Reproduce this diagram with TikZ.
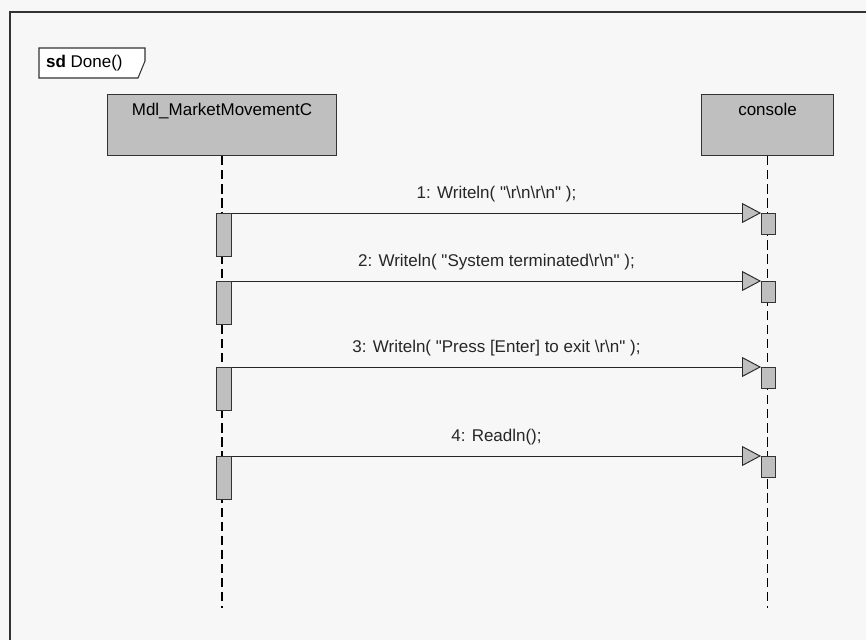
\documentclass[tikz,border=0pt]{standalone}
\usepackage{fontspec}
\setmainfont{Liberation Sans}[Ligatures=TeXOff]
\usetikzlibrary{arrows.meta,positioning}
\newcommand\bsl{\textbackslash}

\begin{document}
\begin{tikzpicture}[x=0.03cm,y=-0.03cm,font=\fontsize{14.5}{17}\selectfont,
  obj/.style={draw=black!80,line width=0.9pt,fill=black!25,anchor=north west,minimum height=1.83cm,inner sep=0pt},
  act/.style={draw=black!80,line width=0.8pt,fill=black!25,anchor=north west,inner sep=0pt,minimum width=0.45cm,minimum height=1.29cm},
  recv/.style={act,minimum width=0.42cm,minimum height=0.63cm},
  life/.style={black,line width=1.1pt,dash pattern=on 8pt off 4pt},
  msg/.style={black!85,line width=0.8pt,-{Triangle[length=5.7mm,width=6mm,fill=black!25,line width=0.8pt]}}]
\useasboundingbox (0,0) rectangle (866,640);
\fill[black!3] (0,0) rectangle (866,640);
\draw[black!80,line width=1pt] (10,640) |- (866,12);

% frame tab
\draw[black!80,line width=0.9pt,fill=white] (39,48) -- (145,48) -- (145,61) -- (138,78) -- (39,78) -- cycle;
\node[anchor=west] (sdlabel) at (42,63) {\textbf{sd} Done()};

% lifelines
\node[obj,minimum width=6.87cm] (mdl) at (107,94) {};
\node[below=1.5mm of mdl.north] (mdlname) {Mdl\_MarketMovementC};
\node[obj,minimum width=3.96cm] (con) at (701,94) {};
\node[below=1.5mm of con.north] (conname) {console};
\coordinate (mdlend) at (mdl.south |- 0,608);
\coordinate (conend) at (con.south |- 0,608);
\draw[life] (mdl) -- (mdlend);
\draw[life] (con) -- (conend);

\foreach \y [count=\i] in {213,281,367,456} {
  \node[act] (b\i) at (216,\y) {};
  \node[recv] (c\i) at (761,\y) {};
}

% messages
\draw[msg] (b1.north east) -- node[above=2mm] (m1) {1: Writeln( "\bsl r\bsl n\bsl r\bsl n" );} (c1.north west);
\draw[msg] (b2.north east) -- node[above=2mm] (m2) {2: Writeln( "System terminated\bsl r\bsl n" );} (c2.north west);
\draw[msg] (b3.north east) -- node[above=2mm] (m3) {3: Writeln( "Press [Enter] to exit \bsl r\bsl n" );} (c3.north west);
\draw[msg] (b4.north east) -- node[above=2mm] (m4) {4: Readln();} (c4.north west);
\end{tikzpicture}
\end{document}
